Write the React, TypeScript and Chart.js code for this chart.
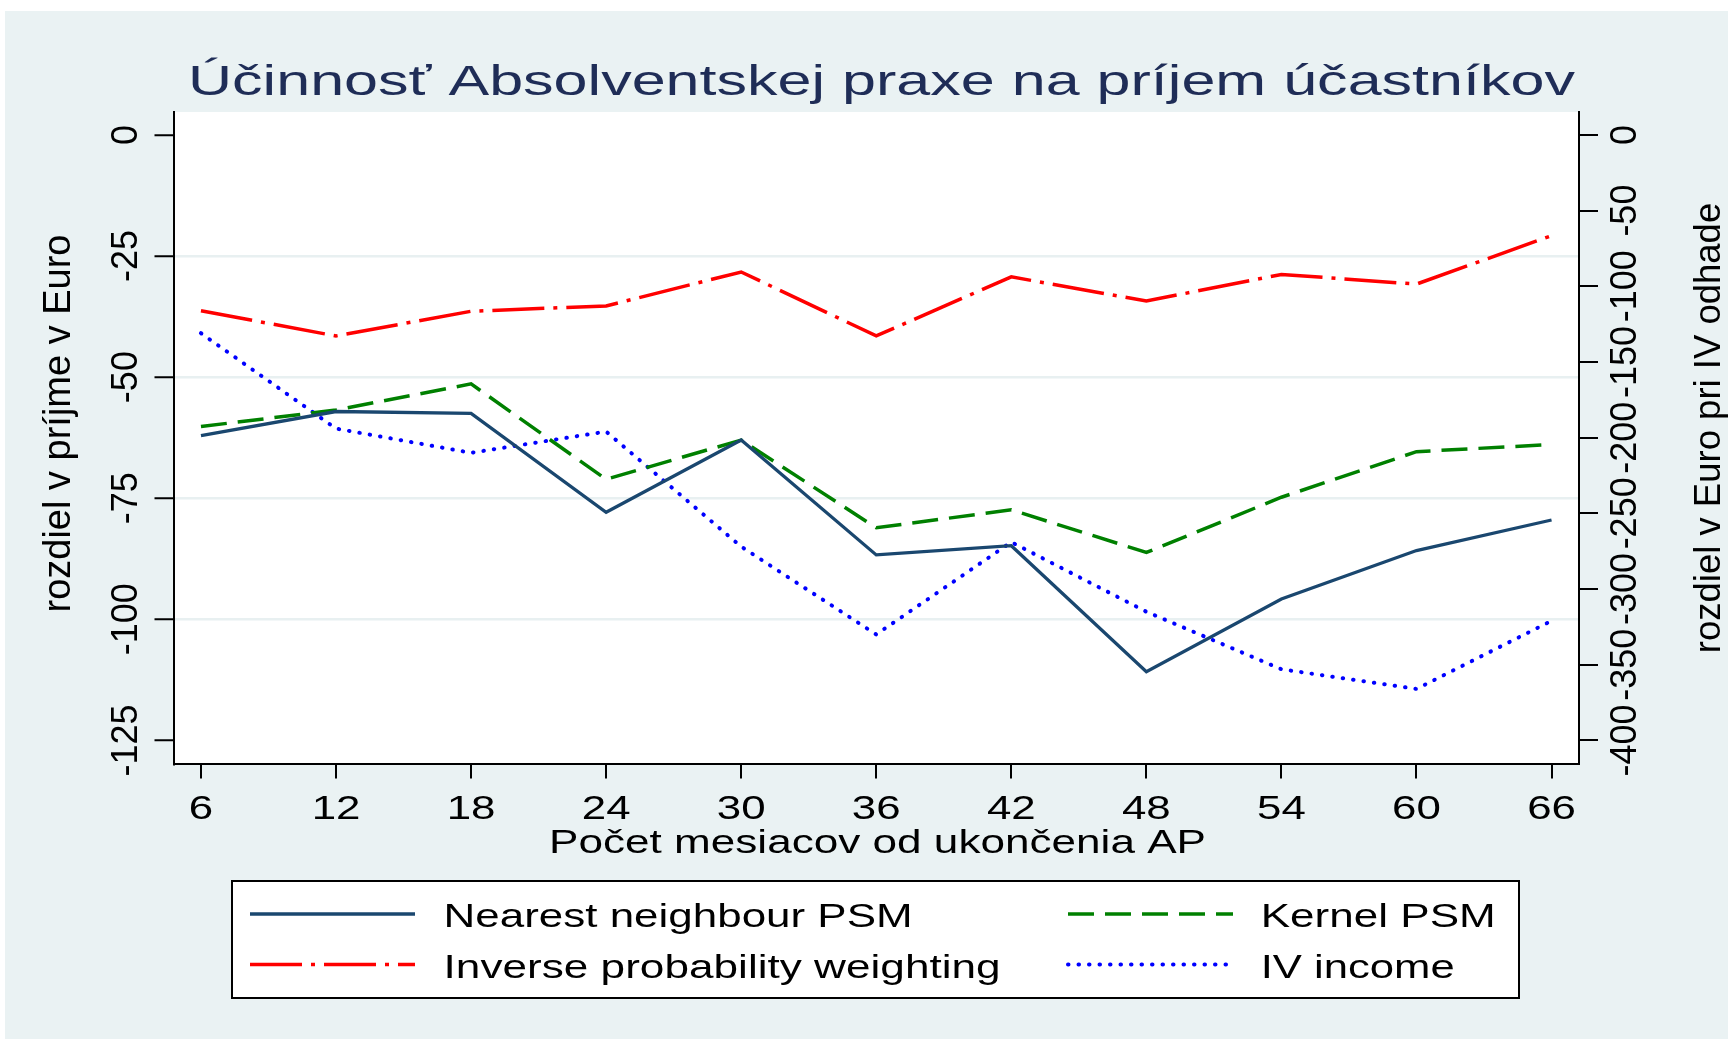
import React, { useEffect, useRef } from 'react';
import { Chart, registerables } from 'chart.js';

Chart.register(...registerables);

// ---------- data ----------
const months = [6, 12, 18, 24, 30, 36, 42, 48, 54, 60, 66];
const nearestNeighbour = [-62.1, -57.1, -57.5, -77.9, -63.0, -86.7, -84.8, -110.8, -95.8, -85.8, -79.5];
const kernelPSM = [-60.2, -56.8, -51.4, -71.1, -63.0, -81.1, -77.4, -86.2, -74.8, -65.4, -63.9];
const inverseProbability = [-36.3, -41.5, -36.4, -35.3, -28.3, -41.5, -29.3, -34.3, -28.8, -30.8, -20.8];
const ivIncome = [-131, -194, -210, -196, -272, -330, -269, -315, -353, -366, -321];

const xTickValues = [6, 12, 18, 24, 30, 36, 42, 48, 54, 60, 66];
const leftTickValues = [0, -25, -50, -75, -100, -125];
const rightTickValues = [0, -50, -100, -150, -200, -250, -300, -350, -400];

const seriesNames = ['Nearest neighbour PSM', 'Kernel PSM', 'Inverse probability weighting', 'IV income'];
const chartTitle = 'Účinnosť Absolventskej praxe na príjem účastníkov';
const xAxisTitle = 'Počet mesiacov od ukončenia AP';
const leftAxisTitle = 'rozdiel v príjme v Euro';
const rightAxisTitle = 'rozdiel v Euro pri IV odhade';

// ---------- style ----------
const W = 1728;
const H = 1039;
const FONT = '"Liberation Sans", Arial, Helvetica, sans-serif';
const BG = '#eaf2f3';
const GRID = '#e8f0f1';
const TITLE_COLOR = '#1f2d57';

const seriesStyles = [
  { color: '#1a476f', width: 3.3, dash: [] as number[], cap: 'butt' as CanvasLineCap },
  { color: '#008000', width: 3.5, dash: [26, 11], cap: 'butt' as CanvasLineCap },
  { color: '#ff0000', width: 3.5, dash: [52, 9, 4, 9], cap: 'butt' as CanvasLineCap },
  { color: '#0000ff', width: 4, dash: [0.5, 10], cap: 'round' as CanvasLineCap },
];

function drawText(
  ctx: CanvasRenderingContext2D,
  str: string,
  x: number,
  y: number,
  size: number,
  opts: { align?: CanvasTextAlign; color?: string; width?: number; sx?: number; rotate?: number } = {}
) {
  ctx.save();
  ctx.font = `${size}px ${FONT}`;
  ctx.fillStyle = opts.color || '#000';
  ctx.textBaseline = 'alphabetic';
  ctx.textAlign = opts.align || 'left';
  ctx.translate(x, y);
  if (opts.rotate) ctx.rotate(opts.rotate);
  let sx = opts.sx || 1;
  if (opts.width) {
    const w = ctx.measureText(str).width;
    sx = opts.width / w;
  }
  ctx.scale(sx, 1);
  ctx.fillText(str, 0, 0);
  ctx.restore();
}

function drawSample(ctx: CanvasRenderingContext2D, x1: number, x2: number, y: number, idx: number) {
  const s = seriesStyles[idx];
  ctx.save();
  ctx.strokeStyle = s.color;
  ctx.lineWidth = s.width;
  ctx.setLineDash(s.dash);
  ctx.lineCap = s.cap;
  ctx.beginPath();
  ctx.moveTo(x1, y);
  ctx.lineTo(x2, y);
  ctx.stroke();
  ctx.restore();
}

const stataPlugin = {
  id: 'stataLook',
  beforeDraw(chart: any) {
    const { ctx, chartArea: a } = chart;
    ctx.save();
    ctx.fillStyle = '#ffffff';
    ctx.fillRect(0, 0, W, H);
    ctx.fillStyle = BG;
    ctx.fillRect(5, 11, W - 5, H - 11);
    ctx.fillStyle = '#ffffff';
    ctx.fillRect(a.left, a.top, a.right - a.left, a.bottom - a.top);
    ctx.restore();
  },
  afterDraw(chart: any) {
    const ctx: CanvasRenderingContext2D = chart.ctx;
    // title
    drawText(ctx, chartTitle, 188, 95, 42, { color: TITLE_COLOR, width: 1387 });
    // x tick labels
    const xs = chart.scales.x;
    xs.ticks.forEach((t: any) => {
      drawText(ctx, String(t.value), xs.getPixelForValue(t.value), 819, 34, { align: 'center', sx: 1.29 });
    });
    // x axis title
    drawText(ctx, xAxisTitle, 549, 853, 33.5, { width: 657 });
    // y axis titles (rotated, reading upward)
    drawText(ctx, leftAxisTitle, 70, 423.5, 38, { align: 'center', rotate: -Math.PI / 2 });
    drawText(ctx, rightAxisTitle, 1720, 428, 36.5, { align: 'center', rotate: -Math.PI / 2 });

    // legend
    ctx.save();
    ctx.fillStyle = '#ffffff';
    ctx.fillRect(232, 881, 1287, 117);
    ctx.strokeStyle = '#000';
    ctx.lineWidth = 2;
    ctx.strokeRect(232, 881, 1287, 117);
    ctx.restore();
    const rowY = [914, 964.5];
    const baseY = [927.3, 977.7];
    const colSample = [[250, 415], [1068, 1233]];
    const colText = [443.6, 1260.7];
    const widths = [469, 235, 557, 194];
    seriesNames.forEach((name, i) => {
      const r = Math.floor(i / 2);
      const c = i % 2;
      drawSample(ctx, colSample[c][0], colSample[c][1], rowY[r], i);
      drawText(ctx, name, colText[c], baseY[r], 33.5, { width: widths[i] });
    });
  },
};

function measureWidth(str: string, size: number) {
  const c = document.createElement('canvas').getContext('2d')!;
  c.font = `${size}px ${FONT}`;
  return c.measureText(str).width;
}

export default function App() {
  const ref = useRef<HTMLCanvasElement | null>(null);

  useEffect(() => {
    if (!ref.current) return;
    const tickSize = 36;
    const widest = measureWidth('-125', tickSize);
    const tickLen = 19;
    const leftPad = 46 - tickLen - widest / 2;
    const rightPad = 47 - tickLen - widest / 2;

    const seriesData = [nearestNeighbour, kernelPSM, inverseProbability, ivIncome];
    const datasets = seriesData.map((vals, i) => ({
      label: seriesNames[i],
      data: months.map((m, j) => ({ x: m, y: vals[j] })),
      yAxisID: i === 3 ? 'y2' : 'y',
      borderColor: seriesStyles[i].color,
      backgroundColor: seriesStyles[i].color,
      borderWidth: seriesStyles[i].width,
      borderDash: seriesStyles[i].dash,
      borderCapStyle: seriesStyles[i].cap,
      borderJoinStyle: 'miter' as CanvasLineJoin,
      pointRadius: 0,
      tension: 0,
      fill: false,
    }));

    const yTickFont = { family: FONT, size: tickSize };

    const chart = new Chart(ref.current, {
      type: 'line',
      data: { datasets },
      options: {
        responsive: false,
        animation: false,
        devicePixelRatio: 1,
        layout: { autoPadding: false, padding: { left: 0, right: 0, top: 112, bottom: 175 } },
        plugins: {
          legend: { display: false },
          title: { display: false },
          tooltip: { enabled: false },
        },
        scales: {
          x: {
            type: 'linear',
            position: 'bottom',
            min: 4.78,
            max: 67.22,
            afterBuildTicks: (s: any) => {
              s.ticks = xTickValues.map((v) => ({ value: v }));
            },
            afterFit: (s: any) => {
              s.height = 100;
            },
            ticks: { display: false, autoSkip: false },
            grid: {
              drawOnChartArea: false,
              drawTicks: true,
              tickLength: 14.5,
              tickColor: '#000',
              tickWidth: 2,
              color: '#000',
              lineWidth: 2,
            },
            border: { display: true, color: '#000', width: 2 },
          },
          y: {
            type: 'linear',
            position: 'left',
            min: -129.87,
            max: 4.73,
            afterBuildTicks: (s: any) => {
              s.ticks = leftTickValues.map((v) => ({ value: v }));
            },
            afterFit: (s: any) => {
              s.width = 173.5;
            },
            ticks: {
              autoSkip: false,
              minRotation: 90,
              maxRotation: 90,
              crossAlign: 'center',
              padding: leftPad,
              color: '#000',
              font: yTickFont,
              callback: (v: any) => String(v),
            },
            grid: {
              drawOnChartArea: true,
              drawTicks: true,
              tickLength: tickLen,
              tickColor: '#000',
              tickWidth: 2,
              lineWidth: 2.5,
              color: (c: any) =>
                c.tick && (c.tick.value === 0 || c.tick.value === -125) ? 'rgba(0,0,0,0)' : GRID,
            },
            border: { display: true, color: '#000', width: 2 },
          },
          y2: {
            type: 'linear',
            position: 'right',
            min: -129.87 * 3.2,
            max: 4.73 * 3.2,
            afterBuildTicks: (s: any) => {
              s.ticks = rightTickValues.map((v) => ({ value: v }));
            },
            afterFit: (s: any) => {
              s.width = W - 1579;
            },
            ticks: {
              autoSkip: false,
              minRotation: 90,
              maxRotation: 90,
              crossAlign: 'center',
              padding: rightPad,
              color: '#000',
              font: yTickFont,
              callback: (v: any) => String(v),
            },
            grid: {
              drawOnChartArea: false,
              drawTicks: true,
              tickLength: tickLen,
              tickColor: '#000',
              tickWidth: 2,
              color: '#000',
              lineWidth: 2,
            },
            border: { display: true, color: '#000', width: 2 },
          },
        },
      } as any,
      plugins: [stataPlugin],
    });

    return () => chart.destroy();
  }, []);

  return (
    <div style={{ position: 'absolute', left: 0, top: 0, width: W, height: H, background: '#fff' }}>
      <canvas ref={ref} width={W} height={H} style={{ display: 'block', width: W, height: H }} />
    </div>
  );
}
